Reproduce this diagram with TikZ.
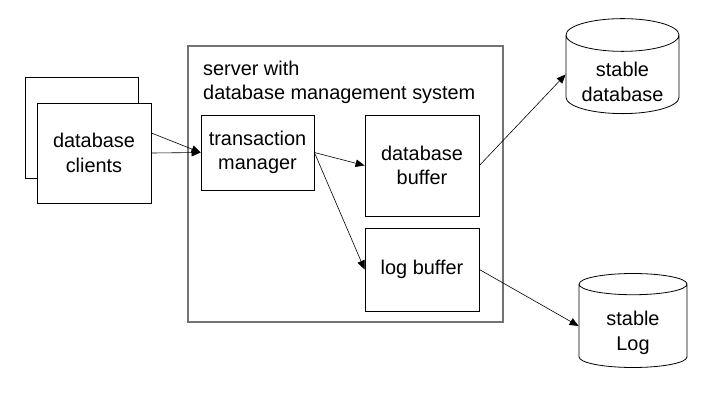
\documentclass[tikz,border=0pt]{standalone}
\usepackage{fontspec}
\setmainfont{Liberation Sans}
\usetikzlibrary{shapes.geometric,arrows.meta,positioning}

\begin{document}
\begin{tikzpicture}[x=1pt, y=-1pt,
    txt/.style={font=\fontsize{19.9}{24.5}\selectfont},
    box/.style={rectangle, draw, line width=0.8pt, fill=white, inner sep=0pt, align=center, txt},
    store/.style={cylinder, shape border rotate=90, draw, line width=0.8pt, aspect=0.4, inner sep=0pt, align=center, txt},
    flow/.style={-{Triangle[length=9pt,width=7.5pt]}, line width=0.6pt}]

    \useasboundingbox (0,0) rectangle (709,405);

    % Server frame
    \node[rectangle, draw=black!55, line width=1.4pt, minimum width=315, minimum height=276] (server) at (345.5,184) {};
    \node[txt, anchor=north west, inner sep=0pt, align=left] (srvtext) at (203,60.6) {server with\\database management system};

    % Clients
    \node[box, minimum width=113, minimum height=101] (back) at (81.5,127.5) {};
    \node[box, minimum width=114, minimum height=100] (clients) at (94,153) {database\\clients};

    % Server parts
    \node[box, minimum width=113, minimum height=75] (tm) at (257.5,152.5) {transaction\\manager};
    \node[box, minimum width=114, minimum height=101] (dbbuf) at (422,165.5) {database\\buffer};
    \node[box, minimum width=114, minimum height=83] (logbuf) at (422,269.5) {log buffer};

    % Stable storage (cylinders sized by phantom text, labels set apart)
    \node[store, minimum width=113, minimum height=95] (sdb) at (622.5,74.5) {\phantom{database}\\\phantom{stable}};
    \node[store, minimum width=108, minimum height=94] (slog) at (633,326) {\phantom{stable}\\\phantom{Log}};
    \node[txt, align=center, inner sep=0pt] (sdbtext) at (622.5,82) {stable\\database};
    \node[txt, align=center, inner sep=0pt] (slogtext) at (633,333) {stable\\Log};

    % Flows
    \draw[flow] ([yshift=20pt]clients.east) -- (tm.west);
    \draw[flow] (clients.east) -- (tm.west);
    \draw[flow] (tm.east) -- (dbbuf.west);
    \draw[flow] (tm.east) -- (logbuf.west);
    \draw[flow] (dbbuf.east) -- (sdb.west);
    \draw[flow] (logbuf.east) -- (slog.west);

\end{tikzpicture}
\end{document}
